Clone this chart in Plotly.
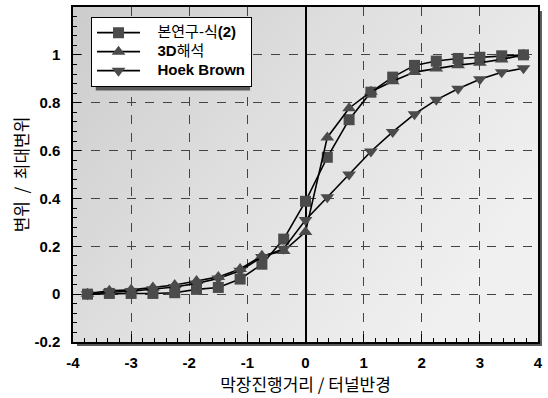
import base64
import plotly.graph_objects as go

# Normalised face-advance distance (advance / tunnel radius)
x_pos = [-3.75, -3.375, -3.0, -2.625, -2.25, -1.875, -1.5, -1.125, -0.75, -0.375,
         0.0, 0.375, 0.75, 1.125, 1.5, 1.875, 2.25, 2.625, 3.0, 3.375, 3.75]

# Normalised displacement (displacement / max displacement)
eq2_vals = [0.0, 0.003, 0.003, 0.003, 0.006, 0.02, 0.028, 0.063, 0.125, 0.23,
            0.388, 0.572, 0.729, 0.844, 0.907, 0.956, 0.974, 0.985, 0.99, 0.996, 1.0]
fem3d_vals = [0.002, 0.014, 0.018, 0.028, 0.038, 0.055, 0.072, 0.105, 0.16, 0.18,
              0.26, 0.655, 0.777, 0.846, 0.89, 0.928, 0.943, 0.957, 0.967, 0.981, 1.0]
hoek_vals = [0.0, 0.008, 0.012, 0.02, 0.03, 0.045, 0.065, 0.098, 0.155, 0.19,
             0.31, 0.405, 0.5, 0.596, 0.678, 0.752, 0.812, 0.858, 0.898, 0.927, 0.944]

series_names = ["본연구-식<b>(2)</b>", "<b>3D</b>해석", "<b>Hoek Brown</b>"]
x_ticks = [-4, -3, -2, -1, 0, 1, 2, 3, 4]
y_ticks = [-0.2, 0, 0.2, 0.4, 0.6, 0.8, 1]

W, H = 548, 398
L, R, T, B = 73, 5, 5, 56
PW, PH = W - L - R, H - T - B

MARK = "#4b4b4b"
TICK_FONT = dict(family="Liberation Sans, Arial, sans-serif", size=15, color="black", weight="bold")
KR_FONT = dict(family="Noto Sans CJK KR, sans-serif", size=17, color="black")
NB = "\u00a0"


def legend_label(text):
    # compact legend rows with full-size lettering
    return f'<span style="font-size:15px">{NB * 3}{text}</span>'


fig = go.Figure()
for vals, name, sym, size in [
    (eq2_vals, series_names[0], "square", 11),
    (fem3d_vals, series_names[1], "triangle-up", 12),
    (hoek_vals, series_names[2], "triangle-down", 12),
]:
    fig.add_trace(go.Scatter(
        x=x_pos, y=vals, name=legend_label(name), mode="lines+markers",
        line=dict(color="black", width=1.6),
        marker=dict(symbol=sym, size=size, color=MARK, line=dict(width=0)),
    ))

# Shaded plot background (diagonal grey gradient)
svg = (
    '<svg xmlns="http://www.w3.org/2000/svg" width="470" height="337" preserveAspectRatio="none">'
    '<defs><linearGradient id="g" x1="0" y1="0" x2="1" y2="0.55">'
    '<stop offset="0" stop-color="#cccccc"/><stop offset="0.5" stop-color="#e0e0e0"/>'
    '<stop offset="1" stop-color="#f0f0f0"/></linearGradient></defs>'
    '<rect width="470" height="337" fill="url(#g)"/></svg>'
)
bg_src = "data:image/svg+xml;base64," + base64.b64encode(svg.encode()).decode()

px = lambda v: v / PW
py = lambda v: v / PH
shadow = "#5a5a5a"
shapes = [
    # frame drop shadow (right and bottom strips)
    dict(type="rect", xref="paper", yref="paper", x0=1, x1=1 + px(4),
         y0=-py(4), y1=1 - py(4), fillcolor=shadow, line_width=0, layer="below"),
    dict(type="rect", xref="paper", yref="paper", x0=px(4), x1=1 + px(4),
         y0=-py(4), y1=0, fillcolor=shadow, line_width=0, layer="below"),
    # legend drop shadow
    dict(type="rect", xref="paper", yref="paper", x0=px(96 - L), x1=px(252 - L),
         y0=1 - py(89 - T), y1=1 - py(20 - T), fillcolor=shadow, line_width=0, layer="above"),
]

fig.update_layout(
    width=W, height=H,
    margin=dict(l=L, r=R, t=T, b=B),
    paper_bgcolor="white",
    plot_bgcolor="rgba(0,0,0,0)",
    images=[dict(source=bg_src, xref="paper", yref="paper", x=0, y=1, sizex=1, sizey=1,
                 xanchor="left", yanchor="top", sizing="stretch", layer="below")],
    shapes=shapes,
    showlegend=True,
    legend=dict(x=px(91 - L), y=1 - py(15 - T), xanchor="left", yanchor="top",
                bgcolor="white", bordercolor="black", borderwidth=1.2,
                font=dict(family="Liberation Sans, Noto Sans CJK KR, sans-serif", size=12, color="black"),
                itemwidth=43, tracegroupgap=0),
    xaxis=dict(
        range=[-4, 4], tickvals=x_ticks, ticktext=[str(v) for v in x_ticks],
        ticks="inside", ticklen=8, tickwidth=1, tickcolor="black",
        minor=dict(dtick=0.2, ticks="inside", ticklen=4, tickcolor="black", showgrid=False),
        showline=True, linecolor="black", linewidth=1.5, mirror=True,
        showgrid=True, gridcolor="#444444", griddash="dash", gridwidth=1,
        zeroline=True, zerolinecolor="black", zerolinewidth=2,
        tickfont=TICK_FONT, ticklabelstandoff=6,
        title=dict(text="막장진행거리 / 터널반경", font=KR_FONT, standoff=5),
    ),
    yaxis=dict(
        range=[-0.2, 1.2], tickvals=y_ticks, ticktext=["-0.2", "0", "0.2", "0.4", "0.6", "0.8", "1"],
        ticks="inside", ticklen=8, tickwidth=1, tickcolor="black",
        minor=dict(dtick=0.04, tick0=0, ticks="inside", ticklen=4, tickcolor="black", showgrid=False),
        showline=True, linecolor="black", linewidth=1.5, mirror=True,
        showgrid=True, gridcolor="#444444", griddash="dash", gridwidth=1,
        zeroline=False,
        tickfont=TICK_FONT, ticklabelstandoff=8,
        title=dict(text=f"변위{NB * 2}/{NB * 2}최대변위", font=KR_FONT, standoff=1),
    ),
)

fig.write_html("out.html")
